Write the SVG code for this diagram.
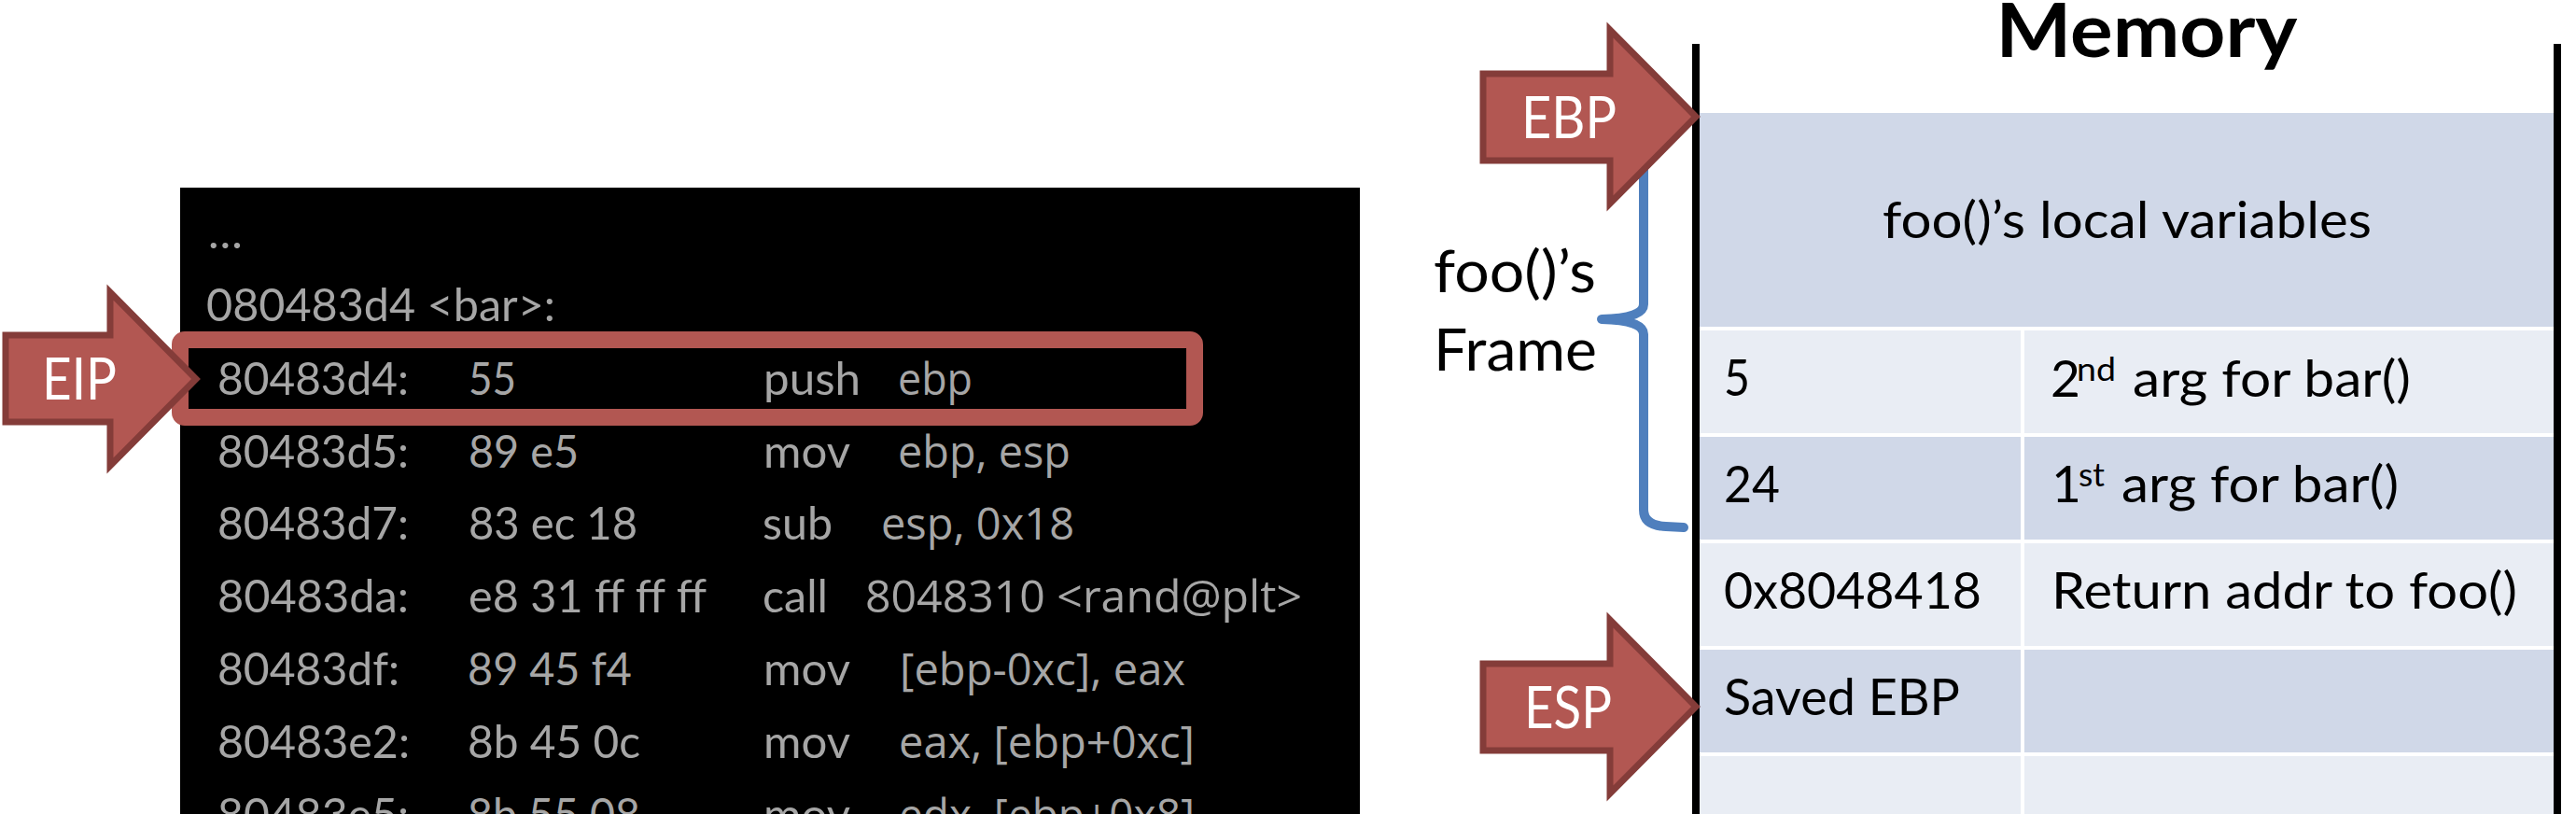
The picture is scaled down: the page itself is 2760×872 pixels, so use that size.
<svg xmlns="http://www.w3.org/2000/svg" width="2760" height="872" viewBox="0 0 2760 872">
<style>
.code{font-family:Lato,"Liberation Sans",sans-serif;font-size:49px;fill:#a6a6a6}
.op{font-family:"Open Sans","Liberation Sans",sans-serif;font-size:48px;fill:#a6a6a6}
.ptr{fill:#b25752;stroke:#843c39;stroke-width:7;stroke-linejoin:miter}
.ptrlabel{font-family:Lato,"Liberation Sans",sans-serif;font-size:62px;fill:#ffffff}
.cell{font-family:Lato,"Liberation Sans",sans-serif;font-size:55px;fill:#000000}
.sup{font-size:34px}
.dark{fill:#d0d8e8}
.light{fill:#e9edf4}
.wall{stroke:#000000;stroke-width:8}
.brace{fill:none;stroke:#4f7fbd;stroke-width:10;stroke-linecap:round;stroke-linejoin:round}
</style>
<rect width="2760" height="872" fill="#ffffff"/>

<g id="code-panel">
<rect x="193" y="201" width="1264" height="700" fill="#000000"/>
<text class="code" x="223" y="266">…</text>
<text class="code" x="221" y="344" textLength="374" lengthAdjust="spacingAndGlyphs">080483d4 &lt;bar&gt;:</text>

<text class="code" x="233" y="423" textLength="205" lengthAdjust="spacingAndGlyphs">80483d4:</text>
<text class="code" x="502" y="423" textLength="51" lengthAdjust="spacingAndGlyphs">55</text>
<text class="code" x="818" y="423" textLength="104" lengthAdjust="spacingAndGlyphs">push</text>
<text class="op" x="962" y="423" textLength="80" lengthAdjust="spacingAndGlyphs">ebp</text>

<text class="code" x="233" y="501" textLength="205" lengthAdjust="spacingAndGlyphs">80483d5:</text>
<text class="code" x="502" y="501" textLength="118" lengthAdjust="spacingAndGlyphs">89 e5</text>
<text class="code" x="818" y="501" textLength="93" lengthAdjust="spacingAndGlyphs">mov</text>
<text class="op" x="962" y="501" textLength="185" lengthAdjust="spacingAndGlyphs">ebp, esp</text>

<text class="code" x="233" y="578" textLength="205" lengthAdjust="spacingAndGlyphs">80483d7:</text>
<text class="code" x="502" y="578" textLength="181" lengthAdjust="spacingAndGlyphs">83 ec 18</text>
<text class="code" x="817" y="578" textLength="75" lengthAdjust="spacingAndGlyphs">sub</text>
<text class="op" x="944" y="578" textLength="207" lengthAdjust="spacingAndGlyphs">esp, 0x18</text>

<text class="code" x="233" y="656" textLength="205" lengthAdjust="spacingAndGlyphs">80483da:</text>
<text class="code" x="502" y="656" textLength="255" lengthAdjust="spacingAndGlyphs">e8 31 ff ff ff</text>
<text class="code" x="817" y="656" textLength="70" lengthAdjust="spacingAndGlyphs">call</text>
<text class="op" x="927" y="656" textLength="468" lengthAdjust="spacingAndGlyphs">8048310 &lt;rand@plt&gt;</text>

<text class="code" x="233" y="734" textLength="195" lengthAdjust="spacingAndGlyphs">80483df:</text>
<text class="code" x="501" y="734" textLength="176" lengthAdjust="spacingAndGlyphs">89 45 f4</text>
<text class="code" x="818" y="734" textLength="93" lengthAdjust="spacingAndGlyphs">mov</text>
<text class="op" x="964" y="734" textLength="306" lengthAdjust="spacingAndGlyphs">[ebp-0xc], eax</text>

<text class="code" x="233" y="812" textLength="206" lengthAdjust="spacingAndGlyphs">80483e2:</text>
<text class="code" x="501" y="812" textLength="185" lengthAdjust="spacingAndGlyphs">8b 45 0c</text>
<text class="code" x="818" y="812" textLength="93" lengthAdjust="spacingAndGlyphs">mov</text>
<text class="op" x="963" y="812" textLength="317" lengthAdjust="spacingAndGlyphs">eax, [ebp+0xc]</text>

<text class="code" x="233" y="890" textLength="205" lengthAdjust="spacingAndGlyphs">80483e5:</text>
<text class="code" x="501" y="890" textLength="185" lengthAdjust="spacingAndGlyphs">8b 55 08</text>
<text class="code" x="818" y="890" textLength="93" lengthAdjust="spacingAndGlyphs">mov</text>
<text class="op" x="963" y="890" textLength="317" lengthAdjust="spacingAndGlyphs">edx, [ebp+0x8]</text>
</g>

<g id="current-instruction-highlight">
<rect x="193" y="364" width="1087" height="83" rx="5" fill="none" stroke="#b25752" stroke-width="18"/>
</g>

<g id="eip-pointer">
<polygon class="ptr" points="6,359 118,359 118,313 210,406 118,499 118,452 6,452"/>
<text class="ptrlabel" x="45" y="428" textLength="80" lengthAdjust="spacingAndGlyphs" font-size="60">EIP</text>
</g>

<g id="memory-title">
<text x="2300" y="61" text-anchor="middle" font-family="Lato, 'Liberation Sans', sans-serif" font-weight="bold" font-size="81" fill="#000000" textLength="323" lengthAdjust="spacingAndGlyphs">Memory</text>
</g>

<g id="memory-stack">
<rect class="dark" x="1821" y="121" width="916" height="229"/>
<rect class="light" x="1821" y="354" width="344" height="110"/>
<rect class="light" x="2169" y="354" width="568" height="110"/>
<rect class="dark" x="1821" y="468" width="344" height="110"/>
<rect class="dark" x="2169" y="468" width="568" height="110"/>
<rect class="light" x="1821" y="582" width="344" height="110"/>
<rect class="light" x="2169" y="582" width="568" height="110"/>
<rect class="dark" x="1821" y="696" width="344" height="110"/>
<rect class="dark" x="2169" y="696" width="568" height="110"/>
<rect class="light" x="1821" y="810" width="344" height="70"/>
<rect class="light" x="2169" y="810" width="568" height="70"/>
<line class="wall" x1="1817" y1="47" x2="1817" y2="872"/>
<line class="wall" x1="2740" y1="47" x2="2740" y2="872"/>
</g>

<g id="cell-local-vars">
<text class="cell" x="2279" y="255" text-anchor="middle" textLength="524" lengthAdjust="spacingAndGlyphs">foo()’s local variables</text>
</g>
<g id="cell-arg2">
<text class="cell" x="1847" y="424" textLength="28" lengthAdjust="spacingAndGlyphs">5</text>
<text class="cell" x="2197" y="425">2<tspan class="sup" x="2225" dy="-17" textLength="42" lengthAdjust="spacingAndGlyphs">nd</tspan><tspan x="2285" dy="17" textLength="298" lengthAdjust="spacingAndGlyphs">arg for bar()</tspan></text>
</g>
<g id="cell-arg1">
<text class="cell" x="1847" y="538" textLength="60" lengthAdjust="spacingAndGlyphs">24</text>
<text class="cell" x="2198" y="538">1<tspan class="sup" x="2227" dy="-17" textLength="28" lengthAdjust="spacingAndGlyphs">st</tspan><tspan x="2273" dy="17" textLength="297" lengthAdjust="spacingAndGlyphs">arg for bar()</tspan></text>
</g>
<g id="cell-return">
<text class="cell" x="1847" y="652" textLength="276" lengthAdjust="spacingAndGlyphs">0x8048418</text>
<text class="cell" x="2198" y="652" textLength="499" lengthAdjust="spacingAndGlyphs">Return addr to foo()</text>
</g>
<g id="cell-saved-ebp">
<text class="cell" x="1847" y="766" textLength="253" lengthAdjust="spacingAndGlyphs">Saved EBP</text>
</g>

<g id="frame-label">
<text x="1536" y="313" font-family="Lato, 'Liberation Sans', sans-serif" font-size="61" fill="#000000" textLength="174" lengthAdjust="spacingAndGlyphs">foo()’s</text>
<text x="1536" y="397" font-family="Lato, 'Liberation Sans', sans-serif" font-size="61" fill="#000000" textLength="175" lengthAdjust="spacingAndGlyphs">Frame</text>
</g>

<g id="connectors">
<path class="brace" d="M1804,121 L1785,121 Q1761,122 1761,140 L1761,326 Q1761,341 1716,342 Q1761,343 1761,358 L1761,546 Q1761,563 1785,564 L1804,565"/>
</g>

<g id="ebp-pointer">
<polygon class="ptr" points="1589,79 1725,79 1725,32 1817,125 1725,218 1725,172 1589,172"/>
<text class="ptrlabel" x="1630" y="148" textLength="102" lengthAdjust="spacingAndGlyphs">EBP</text>
</g>

<g id="esp-pointer">
<polygon class="ptr" points="1589,711 1725,711 1725,664 1817,757 1725,850 1725,804 1589,804"/>
<text class="ptrlabel" x="1633" y="780" textLength="94" lengthAdjust="spacingAndGlyphs">ESP</text>
</g>
</svg>
